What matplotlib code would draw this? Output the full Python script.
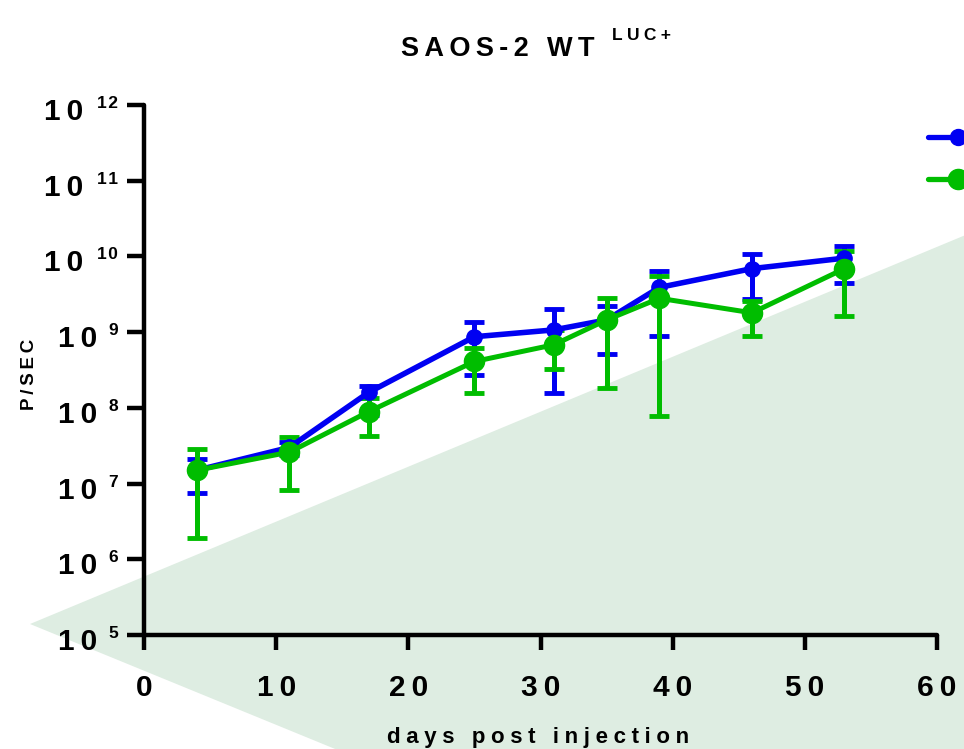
import numpy as np
import matplotlib
matplotlib.use('Agg')
import matplotlib.pyplot as plt
from matplotlib.patches import Polygon
from matplotlib.lines import Line2D

# data
days = [4, 11, 17, 25, 31, 35, 39, 46, 53]

blue_mean = [1.5e7, 3.0e7, 1.6e8, 8.7e8, 1.07e9, 1.45e9, 3.9e9, 6.9e9, 9.5e9]
blue_hi = [2.1e7, 3.5e7, 1.95e8, 1.38e9, 2.0e9, 2.2e9, 6.5e9, 1.07e10, 1.38e10]
blue_lo = [7.6e6, 2.4e7, 8.1e7, 2.75e8, 1.55e8, 5.1e8, 8.9e8, 2.7e9, 4.4e9]

green_mean = [1.5e7, 2.6e7, 8.9e7, 4.1e8, 6.8e8, 1.45e9, 2.8e9, 1.8e9, 6.9e9]
green_hi = [2.9e7, 4.1e7, 1.35e8, 6.2e8, 1.07e9, 2.8e9, 5.5e9, 2.6e9, 1.17e10]
green_lo = [1.9e6, 8.3e6, 4.2e7, 1.55e8, 3.3e8, 1.85e8, 7.9e7, 8.9e8, 1.65e9]

x_ticks = [0, 10, 20, 30, 40, 50, 60]
y_exponents = [5, 6, 7, 8, 9, 10, 11, 12]

title = 'SAOS-2 WT'
title_sup = 'LUC+'
x_label = 'days post injection'
y_label = 'P/SEC'

BLUE = '#0000f2'
GREEN = '#00bd00'
SHADE = '#deede2'

plt.rcParams['font.family'] = ['Liberation Sans', 'DejaVu Sans']
plt.rcParams['font.weight'] = 'bold'

W, H = 964, 749
PX = 0.72  # points per pixel at dpi 100


def spaced(s, gap='\u2009'):
  return gap.join(s)


def fx(x):
  return x / W


def fy(y):
  return 1 - y / H


fig = plt.figure(figsize=(W / 100, H / 100), dpi=100)

# light diagonal band in the background
band = Polygon([(fx(30), fy(624)), (fx(980), fy(229)), (fx(980), fy(760)), (fx(362), fy(760))],
               closed=True, transform=fig.transFigure, facecolor=SHADE, edgecolor='none', zorder=-5)
fig.add_artist(band)

ax = fig.add_axes([fx(144), fy(635), fx(937) - fx(144), fy(105) - fy(635)])
ax.set_facecolor('none')

ax.errorbar(days, blue_mean,
            yerr=[np.subtract(blue_mean, blue_lo), np.subtract(blue_hi, blue_mean)],
            color=BLUE, lw=4, marker='o', ms=11, capsize=7, capthick=3.5, elinewidth=3.6,
            solid_capstyle='round')
ax.errorbar(days, green_mean,
            yerr=[np.subtract(green_mean, green_lo), np.subtract(green_hi, green_mean)],
            color=GREEN, lw=3.6, marker='o', ms=14.5, capsize=7, capthick=3.5, elinewidth=3.6,
            solid_capstyle='round')

ax.set_yscale('log')
ax.set_xlim(0, 60)
ax.set_ylim(1e5, 1e12)
ax.set_xticks(x_ticks)
ax.set_xticklabels([spaced(str(t)) for t in x_ticks], fontsize=21.5, fontweight='bold')
ax.set_yticks([10.0 ** k for k in y_exponents])
ax.yaxis.set_minor_locator(matplotlib.ticker.NullLocator())
ax.tick_params(axis='y', labelleft=False, length=12, width=3.2)
ax.tick_params(axis='x', length=11, width=3.2, pad=17)

for side in ['top', 'right']:
  ax.spines[side].set_visible(False)
for side in ['left', 'bottom']:
  ax.spines[side].set_linewidth(3.2)
  ax.spines[side].set_capstyle('round')

# y tick labels: 10 with a raised exponent
trans = ax.get_yaxis_transform()
for k in y_exponents:
  off = 47 if len(str(k)) == 1 else 61
  ax.annotate(spaced('10'), xy=(0, 10.0 ** k), xycoords=trans,
              xytext=(-off * PX, -15 * PX), textcoords='offset points',
              ha='right', va='baseline', fontsize=21.5, fontweight='bold', annotation_clip=False)
  ax.annotate(spaced(str(k), '\u200a'), xy=(0, 10.0 ** k), xycoords=trans,
              xytext=(-26 * PX, -3 * PX), textcoords='offset points',
              ha='right', va='baseline', fontsize=12.5, fontweight='bold', annotation_clip=False)

fig.text(fx(498), fy(56), spaced(title), ha='center', va='baseline', fontsize=19.5, fontweight='bold')
fig.text(fx(612), fy(40), spaced(title_sup, '\u2005'), ha='left', va='baseline', fontsize=12.5,
         fontweight='bold')
fig.text(fx(29), fy(374), spaced(y_label), rotation=90, ha='center', va='center',
         fontsize=13.5, fontweight='bold')
fig.text(fx(538), fy(743), spaced(x_label, '\u2005'), ha='center', va='baseline',
         fontsize=16, fontweight='bold')

# legend handles (labels fall outside the picture)
for y, c, ms in [(137, BLUE, 11.5), (179, GREEN, 14.5)]:
  fig.add_artist(Line2D([fx(928), fx(958)], [fy(y), fy(y)], transform=fig.transFigure,
                        color=c, lw=3.8, marker='o', ms=ms, markevery=[1], solid_capstyle='round'))

fig.savefig('out.png', dpi=100)
